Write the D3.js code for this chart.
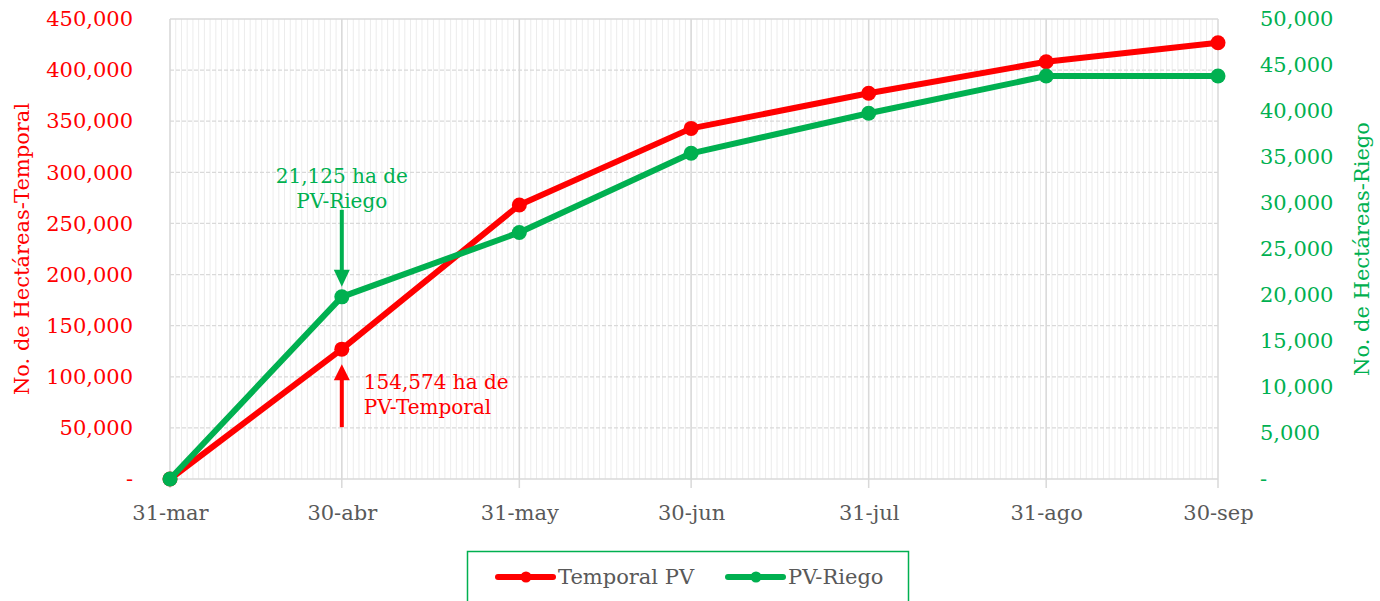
<!DOCTYPE html>
<html>
<head>
<meta charset="utf-8">
<script src="https://cdn.jsdelivr.net/npm/d3@7"></script>
<style>
  body { margin: 0; background: #fff; }
  svg { font-family: "DejaVu Serif", serif; }
</style>
</head>
<body>
<div id="chart"></div>
<script>
/* global d3 */

// data
const dates = ["2023-03-31", "2023-04-30", "2023-05-31", "2023-06-30", "2023-07-31", "2023-08-31", "2023-09-30"];
const tickLabels = ["31-mar", "30-abr", "31-may", "30-jun", "31-jul", "31-ago", "30-sep"];
const temporal = [0, 127000, 268000, 343000, 377300, 408200, 426800];
const riego = [0, 19800, 26800, 35400, 39750, 43800, 43800];
const seriesNames = ["Temporal PV", "PV-Riego"];
const notes = [
    { lines: ["21,125 ha de", "PV-Riego"] },
    { lines: ["154,574 ha de", "PV-Temporal"] }
];

const red = "#ff0000";
const green = "#00b050";
const gray = "#595959";

const width = 1380, height = 601;
const margin = ({top: 19, right: 162, bottom: 122, left: 170});

const parse = d3.timeParse("%Y-%m-%d");
const days = dates.map(parse);

var svg = d3.select("#chart")
    .append("svg")
    .attr("width", width)
    .attr("height", height);

var xScale = d3.scaleTime()
    .domain([days[0], days[days.length - 1]])
    .range([margin.left, width - margin.right]);

var yLeft = d3.scaleLinear()
    .domain([0, 450000])
    .range([height - margin.bottom, margin.top]);

var yRight = d3.scaleLinear()
    .domain([0, 50000])
    .range([height - margin.bottom, margin.top]);

const y0 = yLeft(0);

// minor daily grid
svg.append("g")
    .selectAll("line")
    .data(d3.timeDay.range(days[0], days[days.length - 1]))
    .join("line")
    .attr("x1", d => xScale(d)).attr("x2", d => xScale(d))
    .attr("y1", margin.top).attr("y2", y0)
    .attr("stroke", "#ececec")
    .attr("stroke-width", 1);

// horizontal dashed grid
svg.append("g")
    .selectAll("line")
    .data(d3.range(50000, 450001, 50000))
    .join("line")
    .attr("x1", margin.left).attr("x2", width - margin.right)
    .attr("y1", d => yLeft(d)).attr("y2", d => yLeft(d))
    .attr("stroke", "#d9d9d9")
    .attr("stroke-width", 1.3)
    .attr("stroke-dasharray", d => d === 450000 ? null : "4,2");

// major vertical grid + tick marks
svg.append("g")
    .selectAll("line")
    .data(days)
    .join("line")
    .attr("x1", d => xScale(d)).attr("x2", d => xScale(d))
    .attr("y1", margin.top).attr("y2", y0 + 9)
    .attr("stroke", "#d9d9d9")
    .attr("stroke-width", 1.5);

// baseline
svg.append("line")
    .attr("x1", margin.left).attr("x2", width - margin.right)
    .attr("y1", y0).attr("y2", y0)
    .attr("stroke", "#d9d9d9")
    .attr("stroke-width", 1.5);

// axes
const fmt = d => d === 0 ? "-" : d3.format(",")(d);

var leftAxis = svg.append("g")
    .attr("transform", `translate(${margin.left - 34},0)`)
    .call(d3.axisLeft(yLeft).tickValues(d3.range(0, 450001, 50000)).tickFormat(fmt).tickSize(0));

var rightAxis = svg.append("g")
    .attr("transform", `translate(${width - margin.right + 39},0)`)
    .call(d3.axisRight(yRight).tickValues(d3.range(0, 50001, 5000)).tickFormat(fmt).tickSize(0));

var bottomAxis = svg.append("g")
    .attr("transform", `translate(0,${y0 + 23})`)
    .call(d3.axisBottom(xScale).tickValues(days).tickFormat((d, i) => tickLabels[i]).tickSize(0));

[leftAxis, rightAxis, bottomAxis].forEach(a => {
    a.select(".domain").remove();
    a.selectAll("text").attr("font-family", "DejaVu Serif").attr("font-size", 21);
});
leftAxis.selectAll("text").attr("fill", red).attr("dx", 0);
rightAxis.selectAll("text").attr("fill", green);
bottomAxis.selectAll("text").attr("fill", gray);

// axis titles
svg.append("text")
    .attr("transform", `translate(29,${(margin.top + y0) / 2}) rotate(-90)`)
    .attr("text-anchor", "middle")
    .attr("fill", red)
    .attr("font-size", 21)
    .text("No. de Hectáreas-Temporal");

svg.append("text")
    .attr("transform", `translate(1369,${(margin.top + y0) / 2}) rotate(-90)`)
    .attr("text-anchor", "middle")
    .attr("fill", green)
    .attr("font-size", 21)
    .text("No. de Hectáreas-Riego");

// series
const series = [
    { name: seriesNames[0], values: temporal, y: yLeft, color: red },
    { name: seriesNames[1], values: riego, y: yRight, color: green }
];

series.forEach(s => {
    var line = d3.line()
        .x((d, i) => xScale(days[i]))
        .y(d => s.y(d));
    svg.append("path")
        .datum(s.values)
        .attr("d", line)
        .attr("fill", "none")
        .attr("stroke", s.color)
        .attr("stroke-width", 6)
        .attr("stroke-linejoin", "round");
    svg.append("g")
        .selectAll("circle")
        .data(s.values)
        .join("circle")
        .attr("cx", (d, i) => xScale(days[i]))
        .attr("cy", d => s.y(d))
        .attr("r", 7.5)
        .attr("fill", s.color);
});

// annotations at 30-abr
const ax = xScale(days[1]);
const gy = yRight(riego[1]);
const ry = yLeft(temporal[1]);

svg.append("line")
    .attr("x1", ax).attr("x2", ax)
    .attr("y1", gy - 87).attr("y2", gy - 24)
    .attr("stroke", green).attr("stroke-width", 4);
svg.append("path")
    .attr("d", `M${ax - 8},${gy - 27}L${ax + 8},${gy - 27}L${ax},${gy - 10}Z`)
    .attr("fill", green);
svg.append("text")
    .attr("x", ax).attr("y", gy - 114)
    .attr("text-anchor", "middle")
    .attr("fill", green)
    .attr("font-size", 20)
    .selectAll("tspan")
    .data(notes[0].lines)
    .join("tspan")
    .attr("x", ax)
    .attr("dy", (d, i) => i ? 25 : 0)
    .text(d => d);

svg.append("line")
    .attr("x1", ax).attr("x2", ax)
    .attr("y1", ry + 78).attr("y2", ry + 28)
    .attr("stroke", red).attr("stroke-width", 4);
svg.append("path")
    .attr("d", `M${ax - 8},${ry + 31}L${ax + 8},${ry + 31}L${ax},${ry + 15}Z`)
    .attr("fill", red);
svg.append("text")
    .attr("x", ax + 22).attr("y", ry + 40)
    .attr("fill", red)
    .attr("font-size", 20)
    .selectAll("tspan")
    .data(notes[1].lines)
    .join("tspan")
    .attr("x", ax + 22)
    .attr("dy", (d, i) => i ? 25 : 0)
    .text(d => d);

// legend
svg.append("rect")
    .attr("x", 467.5).attr("y", 551.5)
    .attr("width", 441).attr("height", 60)
    .attr("fill", "#fff")
    .attr("stroke", green)
    .attr("stroke-width", 1.5);

const legendX = [498, 728];
series.forEach((s, i) => {
    var g = svg.append("g").attr("transform", `translate(${legendX[i]},577)`);
    g.append("line")
        .attr("x1", 0).attr("x2", 55)
        .attr("stroke", s.color).attr("stroke-width", 6)
        .attr("stroke-linecap", "round");
    g.append("circle").attr("cx", 28).attr("r", 5.5).attr("fill", s.color);
    g.append("text")
        .attr("x", 60).attr("y", 7)
        .attr("fill", gray)
        .attr("font-size", 21)
        .text(s.name);
});
</script>
</body>
</html>
